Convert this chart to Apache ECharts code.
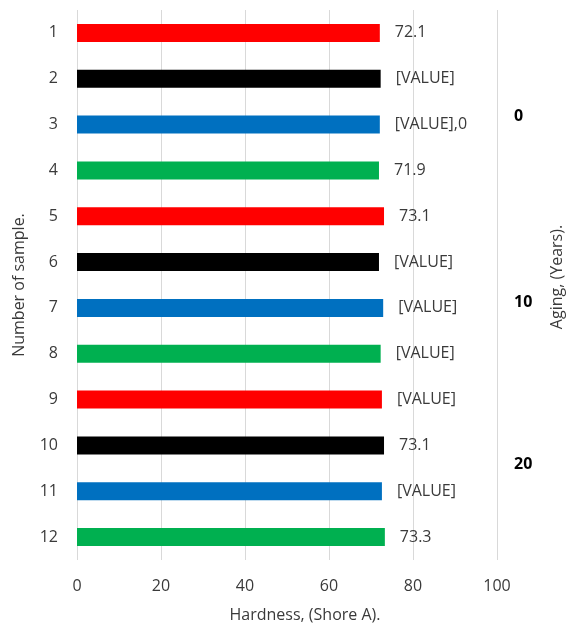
<!DOCTYPE html>
<html>
<head>
<meta charset="utf-8">
<script src="https://cdn.jsdelivr.net/npm/echarts@6/dist/echarts.min.js"></script>
<style>
  html, body { margin: 0; padding: 0; background: #fff; }
  #chart { width: 577px; height: 624px; }
</style>
</head>
<body>
<div id="chart"></div>
<script>
// Sample numbers (top to bottom)
const samples = ['1', '2', '3', '4', '5', '6', '7', '8', '9', '10', '11', '12'];
// Shore A hardness per sample
const hardness = [72.1, 72.3, 72.1, 71.9, 73.1, 71.9, 72.9, 72.3, 72.6, 73.1, 72.6, 73.3];
// Text shown beside each bar
const valueLabels = ['72.1', '[VALUE]', '[VALUE],0', '71.9', '73.1', '[VALUE]', '[VALUE]', '[VALUE]', '[VALUE]', '73.1', '[VALUE]', '73.3'];
// Hardness axis ticks
const hardnessTicks = [0, 20, 40, 60, 80, 100];
// Aging group labels (years)
const agingLabels = ['0', '10', '20'];

const barColors = ['#ff0000', '#000000', '#0070c0', '#00b050'];
const textColor = '#3a3a3a';
const font = '"Open Sans", sans-serif';

const chart = echarts.init(document.getElementById('chart'));

// anchor points of the aging group labels on the right side
const agingPos = [[514, 118], [514, 304], [514, 466]];

chart.setOption({
  animation: false,
  grid: { left: 77, right: 80, top: 10, bottom: 64, containLabel: false, outerBoundsMode: 'none' },
  xAxis: {
    type: 'value',
    min: hardnessTicks[0],
    max: hardnessTicks[hardnessTicks.length - 1],
    interval: hardnessTicks[1] - hardnessTicks[0],
    name: 'Hardness, (Shore A).',
    nameLocation: 'middle',
    nameGap: 47,
    nameTextStyle: { color: textColor, fontFamily: font, fontSize: 16, padding: [0, 0, 0, 36] },
    axisLine: { show: false },
    axisTick: { show: false },
    axisLabel: { color: textColor, fontFamily: font, fontSize: 16, margin: 18 },
    splitLine: { show: true, lineStyle: { color: '#d9d9d9', width: 1 } }
  },
  yAxis: {
    type: 'category',
    data: samples,
    inverse: true,
    name: 'Number of sample.',
    nameLocation: 'middle',
    nameGap: 50,
    nameTextStyle: { color: textColor, fontFamily: font, fontSize: 16 },
    axisLine: { show: false },
    axisTick: { show: false },
    axisLabel: { color: textColor, fontFamily: font, fontSize: 16, margin: 19 },
    splitLine: { show: false }
  },
  series: [{
    type: 'bar',
    barWidth: 18,
    data: hardness.map((v, i) => ({
      value: v,
      itemStyle: { color: barColors[i % barColors.length] }
    })),
    label: {
      show: true,
      position: 'right',
      distance: 15,
      color: textColor,
      fontFamily: font,
      fontSize: 16,
      formatter: p => valueLabels[p.dataIndex]
    }
  }],
  graphic: [
    ...agingLabels.map((t, i) => ({
      type: 'text',
      left: agingPos[i][0],
      top: agingPos[i][1] - 10,
      style: { text: t, fill: '#000', font: 'bold 16px "Open Sans", sans-serif' }
    })),
    {
      type: 'text',
      x: 557,
      y: 277,
      rotation: Math.PI / 2,
      style: {
        text: 'Aging, (Years).',
        fill: textColor,
        font: '16px "Open Sans", sans-serif',
        align: 'center',
        verticalAlign: 'middle'
      }
    }
  ]
});
</script>
</body>
</html>
